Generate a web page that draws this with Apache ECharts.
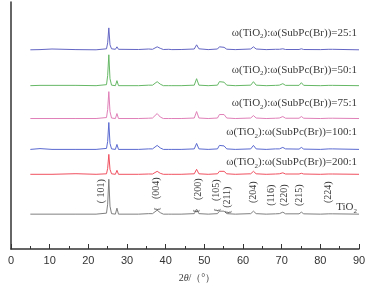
<!DOCTYPE html>
<html>
<head>
<meta charset="utf-8">
<script src="https://cdn.jsdelivr.net/npm/echarts@6/dist/echarts.min.js"></script>
<style>
  html, body { margin: 0; padding: 0; background: #fff; }
  #chart { width: 369px; height: 288px; }
</style>
</head>
<body>
<div id="chart"></div>
<script>
// 2θ sampling positions (degrees)
var twoTheta = [5, 7.5, 10.6, 16.8, 22, 24.7, 25.0, 25.3, 25.6, 26.0, 27.0, 27.4, 27.8, 33, 35.6,
    36.1, 36.6, 37.0, 37.8, 38.6, 39.4, 40.8, 41.2, 41.6, 44, 47.4, 48.0, 48.6, 51, 53.4,
    53.9, 54.4, 55.1, 55.8, 58, 62.0, 62.7, 63.4, 66, 68.4, 68.8, 69.4, 70.3, 71.0, 74.5,
    75.1, 75.7, 80, 82.2, 82.7, 83.2, 90];

// intensities above each trace's baseline (arbitrary units)
var tio2 = [0, 0, 0, 0, 0, 1, 10, 35, 8, 0.5, 0, 6, 0, 0, 0.5,
    2, 0.5, 2, 4, 1.5, 0, 0, 1, 0, 0, 0.5, 5, 0.5, 0, 0.5,
    3, 1, 3, 0.5, 0, 0.5, 3, 0.5, 0, 0.3, 2, 0.5, 2, 0.3, 0.3,
    2, 0.3, 0, 0.3, 1.5, 0.3, 0];
var r200 = [0, 0, 0, 0.6, 0, 0.5, 6, 20, 5, 0.5, 0, 4, 0, 0, 0.3,
    1, 0.3, 1, 3, 1, 0, 0, 1, 0, 0, 0.5, 5, 0.5, 0, 0.5,
    3, 1.5, 3, 0.5, 0, 0.5, 3, 0.5, 0, 0.3, 1.5, 0.5, 1.5, 0.3, 0.3,
    1, 0.3, 0, 0.3, 1, 0.3, 0];
var r100 = [0, 0.8, 0, 0, 0, 1, 8, 27, 6, 0.5, 0, 5, 0, 0, 0.5,
    1.5, 0.5, 2, 4, 1.5, 0, 0, 2, 0, 0, 0.5, 6, 0.5, 0, 0.5,
    4, 2, 3.5, 0.5, 0, 0.5, 4, 0.5, 0, 0.5, 2, 0.5, 2, 0.5, 0.3,
    2, 0.3, 0, 0.5, 2, 0.5, 0];
var r75 = [0, 0, 0, 0, 0, 1, 9, 27, 7, 0.5, 0, 5, 0, 0, 0.3,
    1, 0.5, 2, 5, 1.5, 0, 0, 0.5, 0, 0, 0.5, 7, 0.5, 0, 0.5,
    4, 2, 4, 0.5, 0, 0.5, 3, 0.5, 0, 0.3, 1.5, 0.5, 2, 0.3, 0.3,
    2, 0.3, 0, 0.3, 1, 0.3, 0];
var r50 = [0, 0.3, 0.3, 0.3, 0, 1, 10, 31, 7, 0.5, 0, 5, 0, 0, 0.5,
    1.5, 0.5, 2, 4, 1.5, 0, 0, 1.5, 0, 0, 0.5, 7, 0.5, 0, 0.5,
    4, 2, 3.5, 0.5, 0, 0.5, 4, 0.5, 0, 0.3, 2, 0.5, 2, 0.3, 0.3,
    3, 0.3, 0, 0.3, 1, 0.3, 0];
var r25 = [0, 0.2, 0.8, 0.2, 0, 1, 7, 22, 5, 1, 0.5, 3, 0.5, 0.3, 0.8,
    1, 0.5, 1.5, 3, 1.5, 0.3, 0.5, 1, 0.2, 0.3, 0.8, 5, 1, 0.2, 0.8,
    3, 1.5, 2.5, 0.6, 0.2, 0.8, 3, 0.8, 0.2, 0.5, 1, 0.5, 1, 0.3, 0.3,
    1, 0.3, 0.2, 0.5, 2, 0.5, 0];

// vertical stacking offsets of each trace, and the height of its caption
var traces = [
    { name: 'TiO2', data: tio2, offset: 35, color: '#808080', ratio: null, labelY: 42 },
    { name: '200:1', data: r200, offset: 75, color: '#f0505f', ratio: '200:1', labelY: 87 },
    { name: '100:1', data: r100, offset: 100, color: '#5a6ad0', ratio: '100:1', labelY: 117 },
    { name: '75:1', data: r75, offset: 131, color: '#e080b8', ratio: '75:1', labelY: 146 },
    { name: '50:1', data: r50, offset: 164, color: '#66b866', ratio: '50:1', labelY: 180 },
    { name: '25:1', data: r25, offset: 200, color: '#6466c4', ratio: '25:1', labelY: 217 }
];

// Miller index annotations for the TiO2 trace
var hklLabels = ['( 101)', '(004)', '(200)', '(105)', '(211)', '(204)', '(116)', '(220)', '(215)', '(224)'];
var hklX = [23.3, 37.6, 48.4, 53.0, 56.0, 62.8, 67.3, 70.6, 74.7, 82.0];
var hklY = [58, 61, 60, 59, 52, 57, 54, 54, 54, 57];
// little braces linking some labels to their peaks
var braceX = [37.8, 48.0, 53.5, 56.2];
var braceY = [40, 38, 39, 37];

var xTicks = [0, 10, 20, 30, 40, 50, 60, 70, 80, 90];

var serif = '"Liberation Serif", "Times New Roman", serif';
var textColor = '#3a3a3a';

var myChart = echarts.init(document.getElementById('chart'));

var subRich = {
    t: { fontFamily: serif, fontSize: 11, color: textColor },
    s: { fontFamily: serif, fontSize: 7, color: textColor, padding: [7, 0, 0, 0] }
};

var series = [];
traces.forEach(function (t) {
    var pts = [];
    for (var i = 0; i < twoTheta.length; i++) {
        pts.push([twoTheta[i], t.data[i] + t.offset]);
    }
    var s = {
        name: t.name,
        type: 'line',
        data: pts,
        showSymbol: false,
        symbol: 'none',
        silent: true,
        lineStyle: { color: t.color, width: 1 },
        itemStyle: { color: t.color }
    };
    var mp = [];
    if (t.ratio) {
        mp.push({
            coord: [89.5, t.labelY],
            label: {
                show: true,
                position: 'left',
                distance: 0,
                formatter: '{t|ω(TiO}{s|2}{t|):ω(SubPc(Br))=' + t.ratio + '}',
                rich: subRich
            }
        });
    } else {
        for (var j = 0; j < hklLabels.length; j++) {
            mp.push({
                coord: [hklX[j], hklY[j]],
                label: {
                    show: true,
                    position: 'inside',
                    rotate: 90,
                    formatter: hklLabels[j],
                    fontFamily: serif,
                    fontSize: 10,
                    color: textColor
                }
            });
        }
        for (var k = 0; k < braceX.length; k++) {
            mp.push({
                coord: [braceX[k], braceY[k]],
                label: {
                    show: true,
                    position: 'inside',
                    rotate: 90,
                    formatter: '{',
                    fontFamily: serif,
                    fontSize: 9,
                    color: textColor
                }
            });
        }
        mp.push({
            coord: [89.5, t.labelY],
            label: {
                show: true,
                position: 'left',
                distance: 0,
                formatter: '{t|TiO}{s|2}',
                rich: subRich
            }
        });
    }
    s.markPoint = { symbol: 'rect', symbolSize: 0, silent: true, data: mp };
    series.push(s);
});

var option = {
    animation: false,
    backgroundColor: '#fff',
    grid: { left: 11, right: 10, top: 2, bottom: 38 },
    xAxis: {
        type: 'value',
        min: 0,
        max: 90,
        interval: 10,
        name: '{n|2}{i|θ}{n|/（°）}',
        nameLocation: 'middle',
        nameGap: 24,
        nameTextStyle: {
            padding: [0, 0, 0, 24],
            rich: {
                n: { fontFamily: serif, fontSize: 10, color: textColor },
                i: { fontFamily: serif, fontSize: 10, fontStyle: 'italic', color: textColor }
            }
        },
        axisLine: { lineStyle: { color: '#333', width: 1.5 } },
        axisTick: { inside: true, length: 5, lineStyle: { color: '#333' } },
        minorTick: { show: true, splitNumber: 2, length: 3, lineStyle: { color: '#333' } },
        splitLine: { show: false },
        axisLabel: {
            margin: 6,
            fontFamily: '"Liberation Sans", Arial, sans-serif',
            fontSize: 11,
            color: '#333',
            formatter: function (v) { return xTicks.indexOf(v) >= 0 ? String(v) : ''; }
        }
    },
    yAxis: {
        type: 'value',
        min: 0,
        max: 248,
        axisLine: { show: true, lineStyle: { color: '#333', width: 1.5 } },
        axisTick: { show: false },
        axisLabel: { show: false },
        splitLine: { show: false }
    },
    series: series
};

myChart.setOption(option);
</script>
</body>
</html>
